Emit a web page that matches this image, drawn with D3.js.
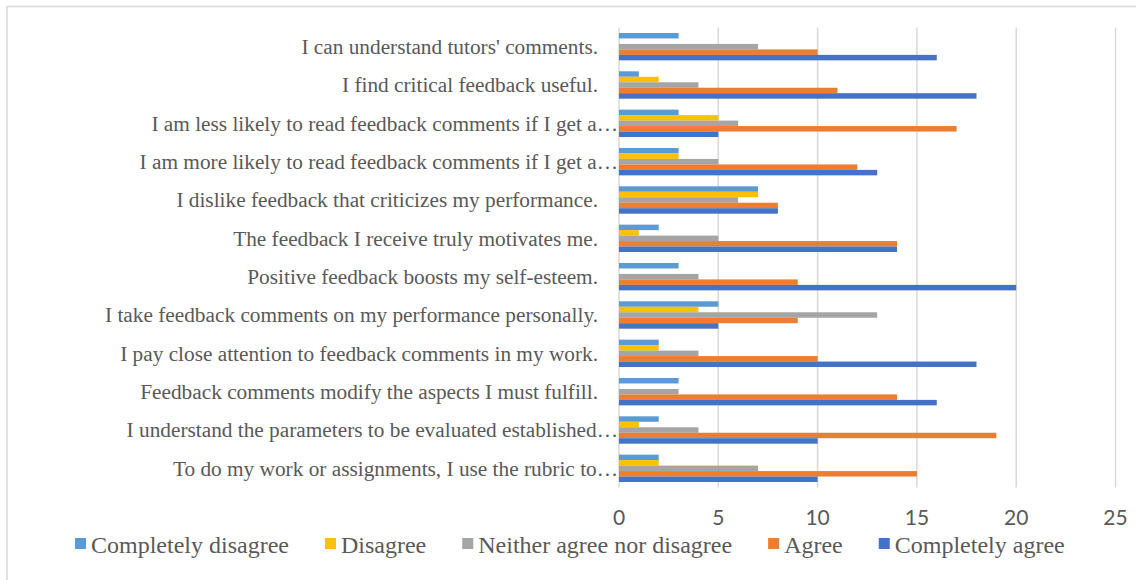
<!DOCTYPE html>
<html>
<head>
<meta charset="utf-8">
<script src="https://cdn.jsdelivr.net/npm/d3@7"></script>
<style>
  html, body { margin: 0; padding: 0; background: #fff; }
  svg { display: block; }
</style>
</head>
<body>
<svg id="chart" width="1136" height="580"></svg>
<script>
// ---- data ----
const categories = [
  "I can understand tutors' comments.",
  "I find critical feedback useful.",
  "I am less likely to read feedback comments if I get a\u2026",
  "I am more likely to read feedback comments if I get a\u2026",
  "I dislike feedback that criticizes my performance.",
  "The feedback I receive truly motivates me.",
  "Positive feedback boosts my self-esteem.",
  "I take feedback comments on my performance personally.",
  "I pay close attention to feedback comments in my work.",
  "Feedback comments modify the aspects I must fulfill.",
  "I understand the parameters to be evaluated established\u2026",
  "To do my work or assignments, I use the rubric to\u2026"
];
const seriesNames = ["Completely disagree", "Disagree", "Neither agree nor disagree", "Agree", "Completely agree"];
const completelyDisagree = [3, 1, 3, 3, 7, 2, 3, 5, 2, 3, 2, 2];
const disagree           = [0, 2, 5, 3, 7, 1, 0, 4, 2, 0, 1, 2];
const neither            = [7, 4, 6, 5, 6, 5, 4, 13, 4, 3, 4, 7];
const agree              = [10, 11, 17, 12, 8, 14, 9, 9, 10, 14, 19, 15];
const completelyAgree    = [16, 18, 5, 13, 8, 14, 20, 5, 18, 16, 10, 10];
const xTicks = [0, 5, 10, 15, 20, 25];
const colors = ["#5B9BD5", "#FFC000", "#A5A5A5", "#ED7D31", "#4472C4"];

const seriesValues = [completelyDisagree, disagree, neither, agree, completelyAgree];

// ---- layout ----
const svg = d3.select("#chart");
const plot = { left: 619, right: 1115.5, top: 27.5, bottom: 487.5 };

// chart border
svg.append("rect")
  .attr("x", 7).attr("y", 6.5)
  .attr("width", 1140).attr("height", 590)
  .attr("fill", "none").attr("stroke", "#d9d9d9").attr("stroke-width", 1.5);

const x = d3.scaleLinear().domain([0, 25]).range([plot.left, plot.right]);
const y = d3.scaleBand().domain(categories)
  .range([plot.top, plot.bottom])
  .paddingInner(2 / 7).paddingOuter(1 / 7);
const ys = d3.scaleBand().domain(seriesNames).range([0, y.bandwidth()]);

// gridlines
svg.append("g").selectAll("line").data(xTicks).join("line")
  .attr("x1", d => x(d)).attr("x2", d => x(d))
  .attr("y1", plot.top).attr("y2", plot.bottom)
  .attr("stroke", "#d9d9d9").attr("stroke-width", 1.5);

// bars
const rows = categories.map((c, i) => ({ c, vals: seriesNames.map((s, j) => ({ s, j, v: seriesValues[j][i] })) }));
const groups = svg.append("g").selectAll("g").data(rows).join("g")
  .attr("transform", d => `translate(0,${y(d.c)})`);
groups.selectAll("rect").data(d => d.vals.filter(e => e.v > 0)).join("rect")
  .attr("x", x(0))
  .attr("y", d => ys(d.s))
  .attr("width", d => x(d.v) - x(0))
  .attr("height", ys.bandwidth())
  .attr("fill", d => colors[d.j]);

// category labels
svg.append("g").selectAll("text").data(categories).join("text")
  .attr("x", d => d.endsWith("\u2026") ? plot.left - 1 : plot.left - 21)
  .attr("y", d => y(d) + y.bandwidth() / 2)
  .attr("dy", "0.35em")
  .attr("text-anchor", "end")
  .attr("font-family", "'Liberation Serif', 'Times New Roman', serif")
  .attr("font-size", "21.3px")
  .attr("fill", "#595959")
  .text(d => d);

// x tick labels
svg.append("g").selectAll("text").data(xTicks).join("text")
  .attr("x", d => x(d))
  .attr("y", 525)
  .attr("text-anchor", "middle")
  .attr("font-family", "Lato, 'Liberation Sans', sans-serif")
  .attr("font-size", "21px")
  .attr("fill", "#595959")
  .text(d => d);

// legend
const legend = svg.append("g");
let lx = 75;
seriesNames.forEach((s, j) => {
  legend.append("rect")
    .attr("x", lx).attr("y", 538)
    .attr("width", 11).attr("height", 11)
    .attr("fill", colors[j]);
  const t = legend.append("text")
    .attr("x", lx + 16).attr("y", 552.5)
    .attr("font-family", "'Liberation Serif', 'Times New Roman', serif")
    .attr("font-size", "24px")
    .attr("fill", "#595959")
    .text(s);
  lx += 16 + t.node().getComputedTextLength() + 36;
});
</script>
</body>
</html>
